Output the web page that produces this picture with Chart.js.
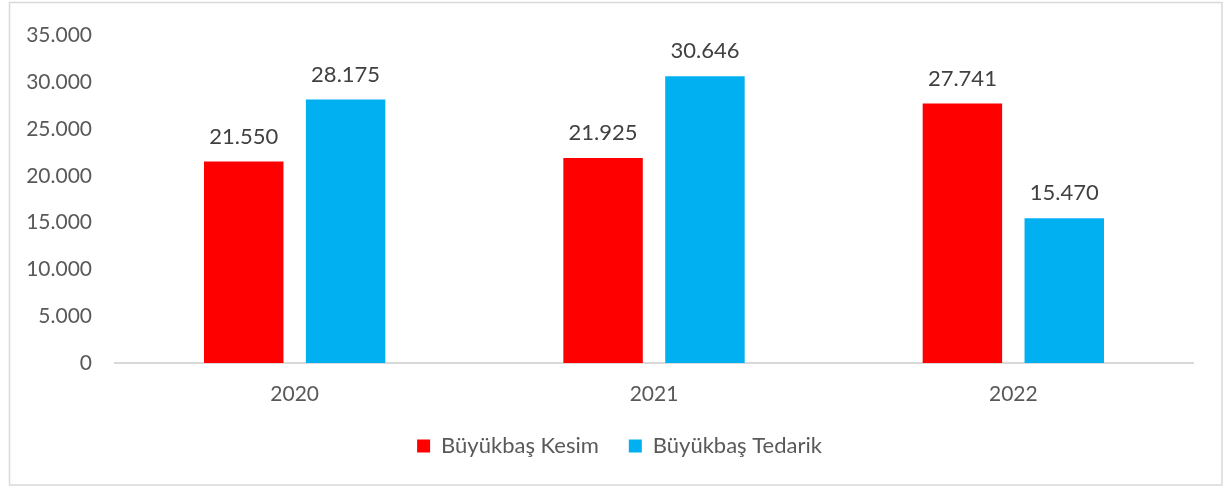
<!DOCTYPE html>
<html lang="tr">
<head>
<meta charset="utf-8">
<title>Büyükbaş Kesim / Tedarik</title>
<script src="https://cdn.jsdelivr.net/npm/chart.js@4/dist/chart.umd.min.js"></script>
<style>
  html, body { margin: 0; padding: 0; background: #fff; }
  #wrap { width: 1227px; height: 486px; }
</style>
</head>
<body>
<div id="wrap"><canvas id="c" width="1227" height="486"></canvas></div>
<script>
  // Yıllar ve seriler (grafikteki etiketlerden okunan değerler)
  const YEARS = ["2020", "2021", "2022"];
  const KESIM = [21550, 21925, 27741];
  const TEDARIK = [28175, 30646, 15470];
  const SERIES_NAMES = ["Büyükbaş Kesim", "Büyükbaş Tedarik"];
  const Y_MAX = 35000;
  const Y_STEP = 5000;

  const FONT = "Lato, 'Liberation Sans', sans-serif";

  // binlik ayırıcı nokta: 28175 -> "28.175"
  function fmt(v) {
    return String(Math.round(v)).replace(/\B(?=(\d{3})+(?!\d))/g, ".");
  }

  // dış çerçeve
  const frame = {
    id: "frame",
    beforeDraw(chart) {
      const ctx = chart.ctx;
      ctx.save();
      ctx.strokeStyle = "#d9d9d9";
      ctx.lineWidth = 1.5;
      ctx.strokeRect(9.5, 2.5, 1212.5, 482.5);
      ctx.restore();
    }
  };

  // lejantı çerçevenin ortasına kaydır
  const legendShift = {
    id: "legendShift",
    afterLayout(chart) {
      if (chart.legend) chart.legend.left += 46;
    }
  };

  // çubukların üstündeki değer etiketleri
  const valueLabels = {
    id: "valueLabels",
    afterDatasetsDraw(chart) {
      const ctx = chart.ctx;
      ctx.save();
      ctx.font = "22px " + FONT;
      ctx.fillStyle = "#404040";
      ctx.textAlign = "center";
      ctx.textBaseline = "bottom";
      chart.data.datasets.forEach((ds, i) => {
        chart.getDatasetMeta(i).data.forEach((bar, j) => {
          ctx.fillText(fmt(ds.data[j]), bar.x, bar.y - 14);
        });
      });
      ctx.restore();
    }
  };

  new Chart(document.getElementById("c"), {
    type: "bar",
    data: {
      labels: YEARS,
      datasets: [
        { label: SERIES_NAMES[0], data: KESIM, backgroundColor: "#ff0000" },
        { label: SERIES_NAMES[1], data: TEDARIK, backgroundColor: "#00b0f0" }
      ]
    },
    options: {
      responsive: false,
      animation: false,
      events: [],
      categoryPercentage: 0.567,
      barPercentage: 0.78,
      layout: { padding: { left: 0, right: 34, top: 29, bottom: 19 } },
      scales: {
        x: {
          grid: { display: false, drawTicks: false },
          border: { display: true, color: "#d9d9d9", width: 2 },
          ticks: { color: "#595959", font: { family: FONT, size: 21 }, padding: 19 },
          afterFit(s) { s.height = 42; }
        },
        y: {
          min: 0,
          max: Y_MAX,
          grid: { display: false, drawTicks: false },
          border: { display: false },
          ticks: {
            stepSize: Y_STEP,
            color: "#595959",
            font: { family: FONT, size: 21 },
            padding: 23,
            callback: (v) => fmt(v)
          },
          afterFit(s) { s.width = 115; }
        }
      },
      plugins: {
        title: { display: false },
        tooltip: { enabled: false },
        legend: {
          position: "bottom",
          labels: {
            color: "#595959",
            font: { family: FONT, size: 22 },
            boxWidth: 13,
            boxHeight: 13,
            padding: 30
          }
        }
      }
    },
    plugins: [frame, legendShift, valueLabels]
  });
</script>
</body>
</html>
